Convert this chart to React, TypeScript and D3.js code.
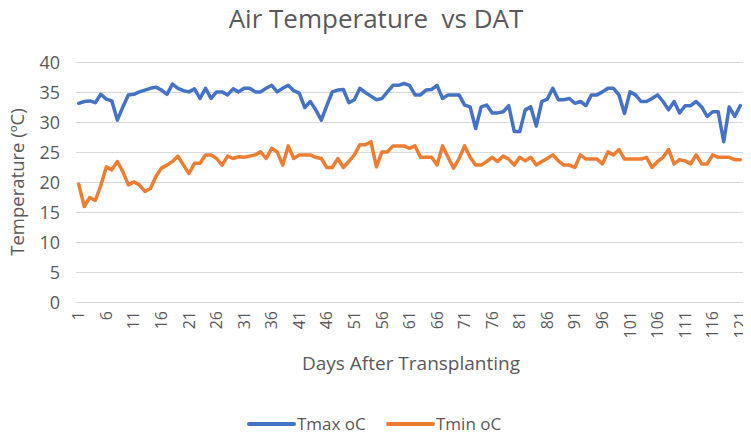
import React from "react";
import * as d3 from "d3";
import { useEffect, useRef } from "react";

// daily max / min air temperature, day 1..121 after transplanting
const tmax = [
  33.2, 33.5, 33.6, 33.3, 34.7, 33.9, 33.6, 30.4, 32.6, 34.6,
  34.7, 35.1, 35.4, 35.7, 35.9, 35.4, 34.7, 36.4, 35.7, 35.3,
  35.1, 35.6, 34.0, 35.7, 34.0, 35.1, 35.1, 34.6, 35.6, 35.1,
  35.7, 35.7, 35.1, 35.1, 35.7, 36.2, 35.1, 35.7, 36.2, 35.3,
  34.9, 32.5, 33.5, 32.1, 30.4, 32.8, 35.1, 35.4, 35.5, 33.3,
  33.8, 35.7, 35.0, 34.4, 33.8, 34.0, 35.1, 36.2, 36.2, 36.5,
  36.2, 34.6, 34.6, 35.4, 35.5, 36.2, 34.0, 34.6, 34.6, 34.6,
  32.9, 32.6, 29.0, 32.6, 32.9, 31.6, 31.6, 31.8, 32.8, 28.5,
  28.5, 32.1, 32.6, 29.4, 33.5, 33.9, 35.7, 33.8, 33.8, 34.0,
  33.2, 33.5, 32.8, 34.6, 34.6, 35.1, 35.7, 35.7, 34.6, 31.5,
  35.1, 34.6, 33.5, 33.5, 34.0, 34.6, 33.5, 32.1, 33.5, 31.6,
  32.8, 32.8, 33.5, 32.6, 31.0, 31.8, 31.8, 26.8, 32.6, 31.0,
  32.8,
];
const tmin = [
  19.7, 16.0, 17.5, 17.0, 19.5, 22.6, 22.1, 23.5, 21.8, 19.6,
  20.1, 19.6, 18.5, 19.0, 21.0, 22.4, 22.9, 23.5, 24.4, 22.9,
  21.5, 23.2, 23.2, 24.6, 24.6, 24.0, 22.9, 24.4, 24.0, 24.3,
  24.2, 24.4, 24.6, 25.1, 24.0, 25.7, 25.1, 22.9, 26.1, 24.0,
  24.6, 24.6, 24.6, 24.2, 24.0, 22.5, 22.5, 24.0, 22.5, 23.5,
  24.6, 26.3, 26.3, 26.8, 22.6, 25.1, 25.1, 26.1, 26.1, 26.1,
  25.7, 26.1, 24.2, 24.2, 24.2, 22.9, 26.1, 24.2, 22.4, 24.0,
  26.1, 24.2, 22.9, 22.9, 23.5, 24.2, 23.5, 24.4, 23.9, 22.9,
  24.2, 23.6, 24.2, 22.9, 23.5, 24.0, 24.6, 23.6, 22.9, 22.9,
  22.5, 24.6, 23.9, 23.9, 23.9, 23.1, 25.1, 24.6, 25.5, 23.9,
  23.9, 23.9, 23.9, 24.2, 22.5, 23.5, 24.2, 25.5, 23.1, 23.8,
  23.6, 23.1, 24.6, 23.1, 23.1, 24.6, 24.2, 24.2, 24.2, 23.8,
  23.8,
];
const days = d3.range(1, tmax.length + 1);
const dayTicks = days.filter((d) => (d - 1) % 5 === 0);
const yTicks = [0, 5, 10, 15, 20, 25, 30, 35, 40];
const seriesNames = ["Tmax oC", "Tmin oC"];
const colors = ["#4472C4", "#ED7D31"];

function App() {
  const svgRef = useRef<SVGSVGElement>(null);

  useEffect(() => {
    const w = 751;
    const h = 438;
    const plotLeft = 76;
    const plotRight = 743;
    const font = "'Open Sans', 'Liberation Sans', sans-serif";
    const grey = "#595959";

    const svg = d3.select(svgRef.current).attr("width", w).attr("height", h);
    svg.selectAll("*").remove();
    svg.append("rect").attr("width", w).attr("height", h).attr("fill", "#fff");

    const x = d3
      .scalePoint<number>()
      .domain(days)
      .range([plotLeft, plotRight])
      .padding(0.5);
    const y = d3.scaleLinear().domain([0, 40]).range([302.5, 62.5]);

    // gridlines
    svg
      .append("g")
      .selectAll("line")
      .data(yTicks)
      .join("line")
      .attr("x1", plotLeft)
      .attr("x2", plotRight)
      .attr("y1", (d) => y(d))
      .attr("y2", (d) => y(d))
      .attr("stroke", "#D9D9D9")
      .attr("stroke-width", 1);

    // y tick labels
    svg
      .append("g")
      .selectAll("text")
      .data(yTicks)
      .join("text")
      .attr("x", 60)
      .attr("y", (d) => y(d))
      .attr("dy", "0.35em")
      .attr("text-anchor", "end")
      .attr("fill", grey)
      .style("font", `18px ${font}`)
      .text((d) => d);

    // x tick labels, rotated
    svg
      .append("g")
      .selectAll("text")
      .data(dayTicks)
      .join("text")
      .attr("transform", (d) => `translate(${x(d)}, 311) rotate(-90)`)
      .attr("dy", "0.35em")
      .attr("text-anchor", "end")
      .attr("fill", grey)
      .style("font", `16px ${font}`)
      .text((d) => d);

    // lines
    const line = d3
      .line<number>()
      .x((v, i) => x(days[i])!)
      .y((v) => y(v));
    [tmax, tmin].forEach((s, k) => {
      svg
        .append("path")
        .datum(s)
        .attr("d", line)
        .attr("fill", "none")
        .attr("stroke", colors[k])
        .attr("stroke-width", 3.5)
        .attr("stroke-linejoin", "round")
        .attr("stroke-linecap", "round");
    });

    // titles
    svg
      .append("text")
      .attr("x", 376)
      .attr("y", 28)
      .attr("text-anchor", "middle")
      .attr("fill", grey)
      .style("font", `26px ${font}`)
      .style("white-space", "pre")
      .text("Air Temperature  vs DAT");
    svg
      .append("text")
      .attr("transform", "translate(24, 182) rotate(-90)")
      .attr("text-anchor", "middle")
      .attr("fill", grey)
      .style("font", `18.5px ${font}`)
      .text("Temperature (ºC)");
    svg
      .append("text")
      .attr("x", 411)
      .attr("y", 370)
      .attr("text-anchor", "middle")
      .attr("fill", grey)
      .style("font", `19px ${font}`)
      .text("Days After Transplanting");

    // legend
    const legend = svg
      .append("g")
      .selectAll("g")
      .data(seriesNames)
      .join("g")
      .attr("transform", (d, i) => `translate(${249 + i * 139}, 424)`);
    legend
      .append("line")
      .attr("x1", 0)
      .attr("x2", 45)
      .attr("stroke", (d, i) => colors[i])
      .attr("stroke-width", 4)
      .attr("stroke-linecap", "round");
    legend
      .append("text")
      .attr("x", 48)
      .attr("dy", "0.35em")
      .attr("fill", grey)
      .style("font", `17px ${font}`)
      .text((d) => d);
  }, []);

  return (
    <div style={{ margin: -8 }}>
      <svg ref={svgRef} style={{ display: "block" }}></svg>
    </div>
  );
}

export default App;
